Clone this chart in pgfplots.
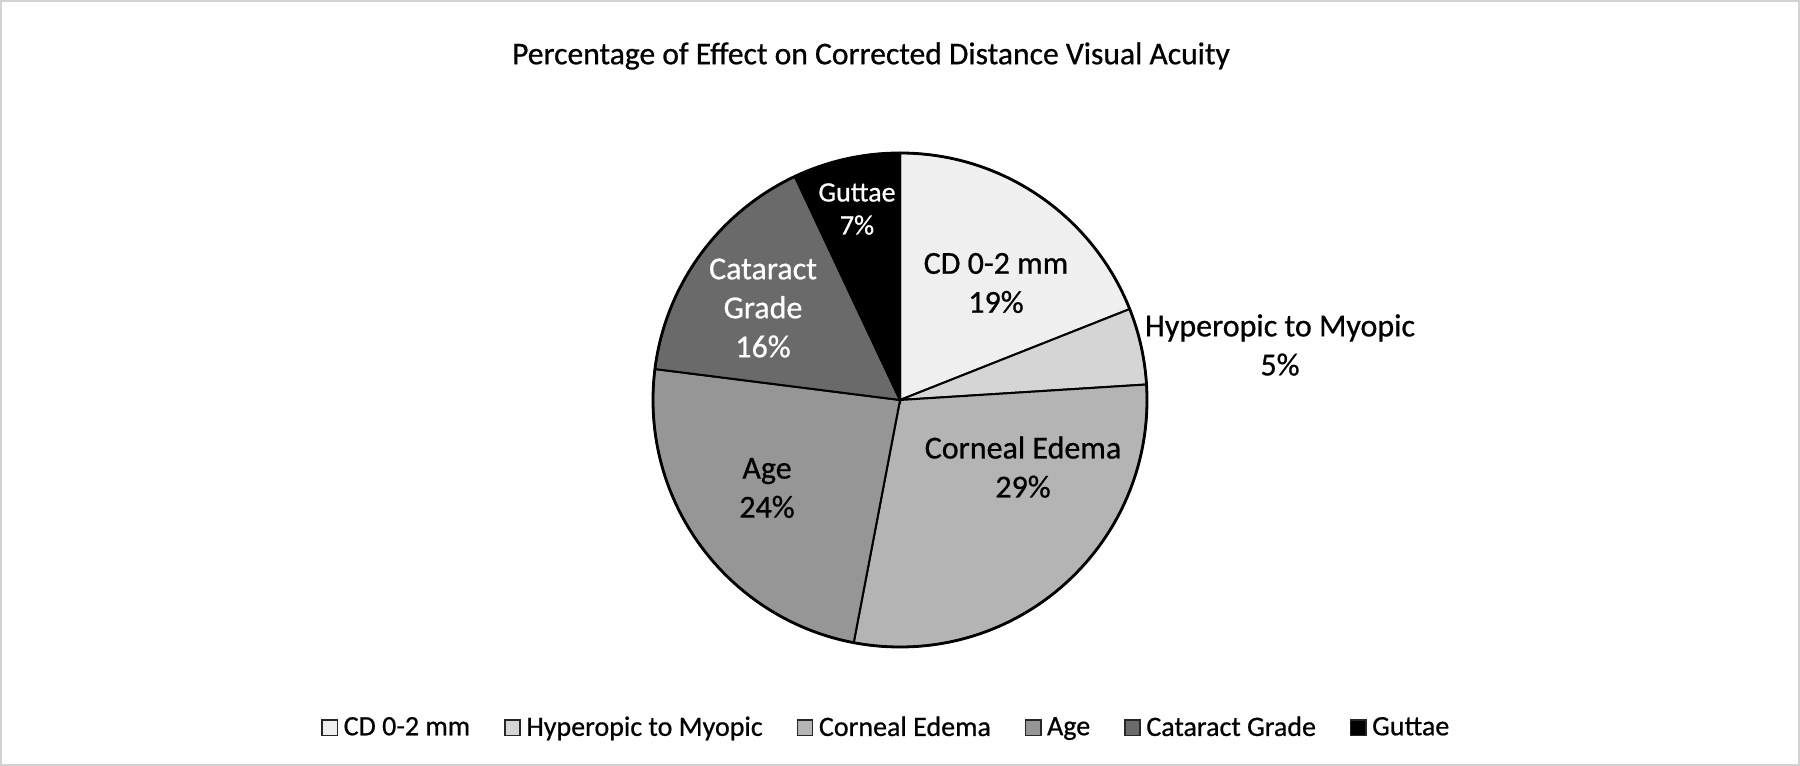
\documentclass[border=0pt]{standalone}
\usepackage{fontspec}
\setmainfont{Carlito}[FakeBold=0.7]
\usepackage{pgfplots}
\pgfplotsset{compat=1.18}

\definecolor{cdcol}{RGB}{239,239,239}
\definecolor{hypcol}{RGB}{213,213,213}
\definecolor{corcol}{RGB}{180,180,180}
\definecolor{agecol}{RGB}{150,150,150}
\definecolor{catcol}{RGB}{106,106,106}
\definecolor{gutcol}{RGB}{0,0,0}
\definecolor{framecol}{RGB}{210,210,210}

% slice from cumulative percent #1 to #2, clockwise from 12 o'clock
\newcommand{\slice}[3]{%
  \fill[#3, draw=black, line width=1pt]
    (axis cs:900,366) -- ++({90-3.6*#1}:123.5pt)
    arc[start angle={90-3.6*#1}, end angle={90-3.6*#2}, radius=123.5pt] -- cycle;}

\begin{document}
\begin{tikzpicture}
\begin{axis}[
    x=0.5pt, y=0.5pt,
    xmin=0, xmax=1800, ymin=0, ymax=766,
    hide axis, clip=false,
    legend columns=6,
    legend style={at={(0.493,0.05)}, anchor=center, draw=none, fill=none,
      font=\fontsize{14}{16}\selectfont,
      /tikz/every odd column/.append style={column sep=0.8pt},
      /tikz/every even column/.append style={column sep=15pt}},
    legend image code/.code={\draw[#1, draw=black!85, line width=0.7pt] (0pt,-3.8pt) rectangle (7.6pt,3.8pt);},
  ]
  \draw[framecol, line width=1pt] (axis cs:1,1) rectangle (axis cs:1799,765);

  % values: 19, 5, 29, 24, 16, 7 (percent)
  \slice{0}{19}{cdcol}
  \slice{19}{24}{hypcol}
  \slice{24}{53}{corcol}
  \slice{53}{77}{agecol}
  \slice{77}{93}{catcol}
  \slice{93}{100}{gutcol}
  \draw[black, line width=1.4pt] (axis cs:900,366) circle[radius=123.5pt];

  \node[font=\fontsize{15.8}{19}\selectfont] at (axis cs:871,710)
    {Percentage of Effect on Corrected Distance Visual Acuity};

  \begin{scope}[every node/.style={align=center, font=\fontsize{16}{19.5}\selectfont}]
    \node at (axis cs:996,483) {CD 0-2 mm\\19\%};
    \node at (axis cs:1280,421) {Hyperopic to Myopic\\5\%};
    \node at (axis cs:1023,299) {Corneal Edema\\29\%};
    \node at (axis cs:767,278) {Age\\24\%};
    \node[white] at (axis cs:763,458) {Cataract\\Grade\\16\%};
    \node[white, font=\fontsize{14}{16.5}\selectfont] at (axis cs:857,557) {Guttae\\7\%};
  \end{scope}

  \addlegendimage{fill=cdcol}
  \addlegendentry{CD 0-2 mm}
  \addlegendimage{fill=hypcol}
  \addlegendentry{Hyperopic to Myopic}
  \addlegendimage{fill=corcol}
  \addlegendentry{Corneal Edema}
  \addlegendimage{fill=agecol}
  \addlegendentry{Age}
  \addlegendimage{fill=catcol}
  \addlegendentry{Cataract Grade}
  \addlegendimage{fill=gutcol}
  \addlegendentry{Guttae}
\end{axis}
\end{tikzpicture}
\end{document}
